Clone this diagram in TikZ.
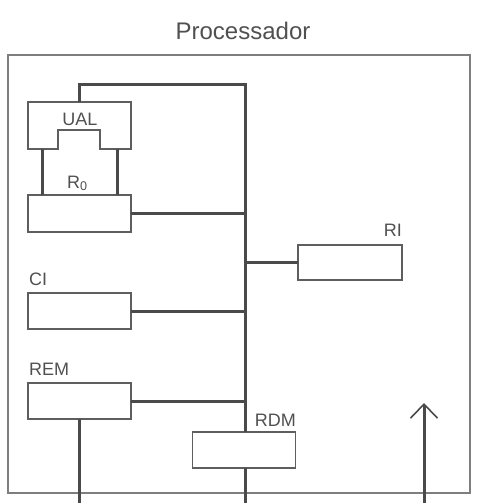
\documentclass[tikz,border=0pt]{standalone}
\usepackage{fontspec}
\setmainfont{Liberation Sans}
\usepackage{tikz}
\usetikzlibrary{arrows.meta,positioning,calc}
\definecolor{linegray}{HTML}{4A4A4A}
\definecolor{boxgray}{HTML}{5E5E5E}
\definecolor{textgray}{HTML}{505050}

\begin{document}
\begin{tikzpicture}[x=1pt, y=-1pt,
  reg/.style={draw=boxgray, line width=1.4pt, minimum width=103pt, minimum height=36pt, inner sep=0pt, outer sep=0pt},
  lbl/.style={text=textgray, font=\fontsize{18}{20}\selectfont, inner sep=0pt},
  bus/.style={draw=linegray, line width=3pt},
  frame/.style={draw=boxgray!80, line width=1.2pt}
]
  \useasboundingbox (0,0) rectangle (477,503);

  \node[lbl, font=\fontsize{24}{26}\selectfont, anchor=base] (title) at (243,40) {Processador};
  \draw[frame] (8,55) rectangle (470,493);

  \node[reg, minimum height=37pt] (r0) at (79.5,213.5) {};
  \node[reg] (ci) at (79.5,311) {};
  \node[reg] (rem) at (79.5,401) {};
  \node[reg, minimum width=104pt, minimum height=35pt] (ri) at (350,262.5) {};
  \node[reg] (rdm) at (244,450) {};

  \node[lbl, anchor=base] (ual) at (80,125) {UAL};
  \node[lbl, anchor=base west] (r0lbl) at (67,188) {R\textsubscript{0}};
  \node[lbl, anchor=base west] (cilbl) at (29,285) {CI};
  \node[lbl, anchor=base west] (remlbl) at (29,375) {REM};
  \node[lbl, anchor=base east] (rilbl) at (402,236) {RI};
  \node[lbl, anchor=base east] (rdmlbl) at (296,426) {RDM};

  \draw[draw=boxgray, line width=1.4pt] (28,102) -- (131,102) -- (131,149) -- (100,149)
    -- (100,130) -- (58,130) -- (58,149) -- (28,149) -- cycle;
  \coordinate (ualtop) at (79,102);
  \coordinate (ualleft) at (42,149);
  \coordinate (ualright) at (117,149);
  \coordinate (bustop) at (245,84);
  \coordinate (inbot) at (424,503);
  \coordinate (intop) at (424,403);

  \draw[bus] (ualleft) -- (ualleft |- r0.north);
  \draw[bus] (ualright) -- (ualright |- r0.north);
  \draw[bus] (ualtop) |- (bustop) -- (bustop |- rdm.north);
  \draw[bus] (r0.east) -- (r0.east -| bustop);
  \draw[bus] (ci.east) -- (ci.east -| bustop);
  \draw[bus] (rem.east) -- (rem.east -| bustop);
  \draw[bus] (ri.west) -- (ri.west -| bustop);
  \draw[bus] (rem.south) -- (rem.south |- inbot);
  \draw[bus] (bustop |- rdm.south) -- (bustop |- inbot);
  \draw[bus, -{Straight Barb[length=14pt, width=27pt, line width=1.6pt]}] (inbot) -- (intop);
\end{tikzpicture}
\end{document}
